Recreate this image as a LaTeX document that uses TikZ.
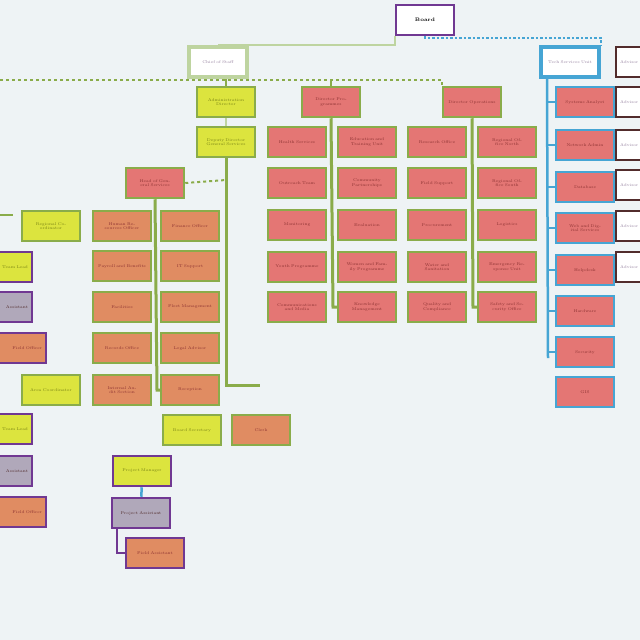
\documentclass[tikz,border=0pt]{standalone}
\usepackage{tikz}
\usetikzlibrary{positioning,calc}
\definecolor{paper}{RGB}{238,243,245}
\definecolor{boxred}{RGB}{228,118,116}
\definecolor{boxorange}{RGB}{224,140,98}
\definecolor{boxyellow}{RGB}{220,228,62}
\definecolor{leaf}{RGB}{138,172,74}
\definecolor{paleleaf}{RGB}{190,212,160}
\definecolor{sky}{RGB}{70,165,212}
\definecolor{plum}{RGB}{112,56,146}
\definecolor{mauve}{RGB}{176,168,186}
\definecolor{bark}{RGB}{82,44,44}
\definecolor{redink}{RGB}{140,50,50}
\definecolor{oliveink}{RGB}{120,130,20}
\definecolor{grayink}{RGB}{150,130,160}
\tikzset{
    x=1pt,
    y=-1pt,
    unit/.style = {
        draw,
        shape=rectangle,
        minimum height=30pt,
        minimum width=58pt,
        text width=50pt,
        align=center,
        line width=2.5pt,
        inner sep=1pt,
        font=\fontsize{4}{4.6}\selectfont
    },
    redunit/.style = {unit, fill=boxred, draw=leaf, text=redink},
    orangeunit/.style = {unit, fill=boxorange, draw=leaf, text=redink},
    yellowunit/.style = {unit, fill=boxyellow, draw=leaf, text=oliveink},
    headunit/.style = {unit, fill=white, draw=paleleaf, text=grayink, line width=4pt},
    skyunit/.style = {unit, fill=boxred, draw=sky, text=redink},
    plumunit/.style = {unit, fill=mauve, draw=plum, text=bark},
    barkunit/.style = {unit, fill=white, draw=bark, text=grayink, align=left},
    westedge/.style = {align=right},
    trunk/.style = {draw, leaf, line width=3pt},
    twig/.style = {draw, paleleaf, line width=2.5pt},
}
\begin{document}
\begin{tikzpicture}
                \fill[paper] (0,0) rectangle (640,640);
                \useasboundingbox (0,0) rectangle (640,640);

                % top
                \node[unit, fill=white, draw=plum, text=black, font=\fontsize{5}{6}\selectfont\bfseries] (board) at (425,20) {Board};
                \node[headunit] (staff) at (218,62) {Chief of Staff};
                \node[headunit, draw=sky] (tech) at (570,62) {Tech Services Unit};

                % second level
                \node[yellowunit] (admin) at (226,102) {Administration Director};
                \node[redunit] (prog) at (331,102) {Director Programmes};
                \node[redunit] (ops) at (472,102) {Director Operations};
                \node[yellowunit] (deputy) at (226,142) {Deputy Director General Services};

                % programme grid
                \node[redunit] (p11) at (297,142) {Health Services};
                \node[redunit] (p12) at (367,142) {Education and Training Unit};
                \node[redunit] (p13) at (437,142) {Research Office};
                \node[redunit] (p14) at (507,142) {Regional Office North};
                \node[redunit] (p21) at (297,183) {Outreach Team};
                \node[redunit] (p22) at (367,183) {Community Partnerships};
                \node[redunit] (p23) at (437,183) {Field Support};
                \node[redunit] (p24) at (507,183) {Regional Office South};
                \node[redunit] (p31) at (297,225) {Monitoring};
                \node[redunit] (p32) at (367,225) {Evaluation};
                \node[redunit] (p33) at (437,225) {Procurement};
                \node[redunit] (p34) at (507,225) {Logistics};
                \node[redunit] (p41) at (297,267) {Youth Programme};
                \node[redunit] (p42) at (367,267) {Women and Family Programme};
                \node[redunit] (p43) at (437,267) {Water and Sanitation};
                \node[redunit] (p44) at (507,267) {Emergency Response Unit};
                \node[redunit] (p51) at (297,307) {Communications and Media};
                \node[redunit] (p52) at (367,307) {Knowledge Management};
                \node[redunit] (p53) at (437,307) {Quality and Compliance};
                \node[redunit] (p54) at (507,307) {Safety and Security Office};

                % general services
                \node[redunit] (gen) at (155,183) {Head of General Services};
                \node[orangeunit] (g11) at (122,226) {Human Resources Officer};
                \node[orangeunit] (g12) at (190,226) {Finance Officer};
                \node[orangeunit] (g21) at (122,266) {Payroll and Benefits};
                \node[orangeunit] (g22) at (190,266) {IT Support};
                \node[orangeunit] (g31) at (122,307) {Facilities};
                \node[orangeunit] (g32) at (190,307) {Fleet Management};
                \node[orangeunit] (g41) at (122,348) {Records Office};
                \node[orangeunit] (g42) at (190,348) {Legal Advisor};
                \node[orangeunit] (g51) at (122,390) {Internal Audit Section};
                \node[orangeunit] (g52) at (190,390) {Reception};
                \node[yellowunit] (legal) at (192,430) {Board Secretary};
                \node[orangeunit] (clerk) at (261,430) {Clerk};

                % left wing
                \node[yellowunit] (west1) at (51,226) {Regional Coordinator};
                \node[yellowunit] (west2) at (51,390) {Area Coordinator};
                \node[yellowunit, draw=plum, westedge] (w11) at (3,267) {Team Lead};
                \node[plumunit, westedge] (w12) at (3,307) {Assistant};
                \node[orangeunit, draw=plum, westedge] (w13) at (17,348) {Field Officer};
                \node[yellowunit, draw=plum, westedge] (w21) at (3,429) {Team Lead};
                \node[plumunit, westedge] (w22) at (3,471) {Assistant};
                \node[orangeunit, draw=plum, westedge] (w23) at (17,512) {Field Officer};

                % middle bottom
                \node[yellowunit, draw=plum] (m1) at (142,471) {Project Manager};
                \node[plumunit] (m2) at (141,513) {Project Assistant};
                \node[orangeunit, draw=plum] (m3) at (155,553) {Field Assistant};

                % tech column
                \node[skyunit] (t1) at (585,102) {Systems Analyst};
                \node[skyunit] (t2) at (585,145) {Network Admin};
                \node[skyunit] (t3) at (585,187) {Database};
                \node[skyunit] (t4) at (585,228) {Web and Digital Services};
                \node[skyunit] (t5) at (585,270) {Helpdesk};
                \node[skyunit] (t6) at (585,311) {Hardware};
                \node[skyunit] (t7) at (585,352) {Security};
                \node[skyunit] (t8) at (585,392) {GIS};

                % far right
                \node[barkunit] (f1) at (645,62) {Advisor};
                \node[barkunit] (f2) at (645,102) {Advisor};
                \node[barkunit] (f3) at (645,145) {Advisor};
                \node[barkunit] (f4) at (645,185) {Advisor};
                \node[barkunit] (f5) at (645,226) {Advisor};
                \node[barkunit] (f6) at (645,267) {Advisor};

                \coordinate (edge) at (0,215);
                \coordinate (edgeend) at (13,215);

                % connectors
                \path[twig] (board.south west) |- (staff.north);
                \path[draw, sky, line width=2.5pt, dotted] (board.south) |- ($(tech.north east)+(0,-7)$) -- (tech.north east);
                \path[draw, leaf, line width=2pt, dashed] (0,80) -| (ops.north west);
                \path[draw, leaf, line width=2pt] (admin.north |- staff.south) -- (admin.north);
                \path[draw, leaf, line width=2pt] (prog.north) -- ++(0,-5);
                \path[twig] (admin) -- (deputy);
                \path[trunk] (deputy.south) -- (226,385) -- (260,385);
                \path[draw, leaf, line width=2pt, dashed] (gen.east) -- (226,180);
                \path[trunk] (prog.south) -- (333,307) -- (p52.west);
                \path[trunk] (ops.south) -- (473,307) -- (p54.west);
                \path[trunk] (gen.south) -- (157,390) -- (g52.west);
                \path[draw, leaf, line width=2.5pt] (edge) -- (edgeend);
                \path[draw, plum, line width=2.5pt] (w11.south west) -- (w12.north west);
                \path[draw, plum, line width=2.5pt] (w21.south west) -- (w22.north west);
                \path[draw, sky, line width=2.5pt] (m1) -- (m2);
                \path[draw, plum, line width=2.5pt] (m2.south west) ++(6,0) |- (m3.west);
                \path[draw, sky, line width=2.5pt] (tech.south west) ++(8,0) -- (548,358);
                \foreach \t in {t1,t2,t3,t4,t5,t6,t7} {
                    \path[draw, sky, line width=2pt] (548,0 |- \t.west) -- (\t.west);
                }
            \end{tikzpicture}
\end{document}
